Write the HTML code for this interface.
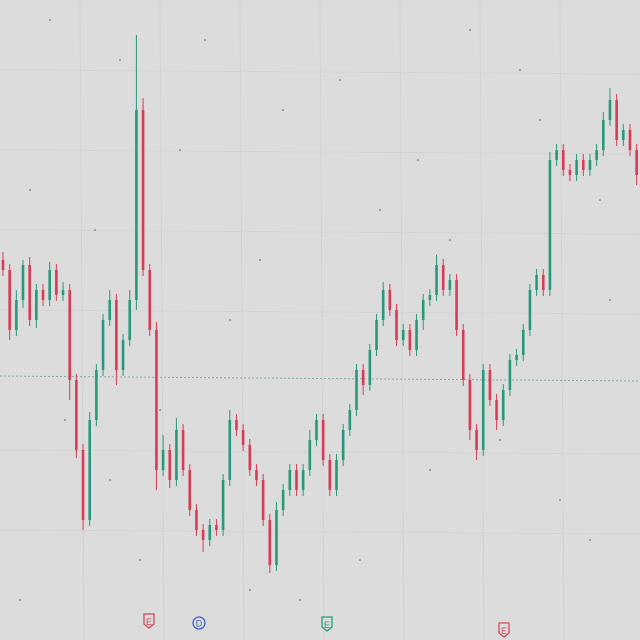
<!DOCTYPE html>
<html><head><meta charset="utf-8"><style>
html,body{margin:0;padding:0;background:#dddddd;}
svg{display:block;}
</style></head><body>
<svg id="chart" width="640" height="640" viewBox="0 0 640 640">
<rect x="0" y="0" width="640" height="640" fill="#dcdcdc"/>
<g id="grid"></g>
<g id="dots"></g>
<line x1="0" y1="376" x2="640" y2="381" stroke="#7fae9e" stroke-width="1" stroke-dasharray="2,2"/>
<g id="candles"></g>
<g>
 <g><path d="M144,614 h10 v10 l-5,4 l-5,-4z" fill="none" stroke="#d24a5a" stroke-width="1.3"/><text x="149" y="625" font-size="9" text-anchor="middle" fill="#d24a5a" font-family="Liberation Sans, sans-serif">E</text></g>
 <g><circle cx="199" cy="623" r="6" fill="none" stroke="#3a66c8" stroke-width="1.3"/><text x="199" y="626.5" font-size="9" text-anchor="middle" fill="#3a66c8" font-family="Liberation Sans, sans-serif">D</text></g>
 <g><path d="M322,617 h10 v10 l-5,4 l-5,-4z" fill="none" stroke="#2a9d7a" stroke-width="1.3"/><text x="327" y="628" font-size="9" text-anchor="middle" fill="#2a9d7a" font-family="Liberation Sans, sans-serif">E</text></g>
 <g><path d="M499,623 h10 v10 l-5,4 l-5,-4z" fill="none" stroke="#d24a5a" stroke-width="1.3"/><text x="504" y="634" font-size="9" text-anchor="middle" fill="#d24a5a" font-family="Liberation Sans, sans-serif">E</text></g>
</g>
</svg>
<script>
const closes=[370,310,340,375,320,350,340,370,345,350,260,190,120,220,270,320,340,270,300,340,530,370,310,170,190,160,210,170,130,110,100,115,110,160,220,210,195,170,160,120,75,130,150,170,150,170,200,220,180,150,180,210,230,270,255,290,320,350,330,300,310,290,320,340,345,375,350,360,310,260,210,190,270,240,220,250,280,285,310,350,365,350,480,490,470,465,480,470,480,490,520,540,500,510,490,465];
const firstOpen=380;
const wickUp=[8,6,10,5,8,6,6,8,6,8,6,6,6,8,6,6,10,6,6,10,75,12,6,8,15,6,12,6,6,6,6,6,6,6,10,6,6,6,6,6,6,8,6,6,6,6,10,6,6,6,6,6,6,6,6,6,6,8,6,6,6,6,6,6,6,10,6,6,6,6,6,6,6,6,6,6,6,6,6,6,6,6,8,6,6,6,6,6,6,6,8,12,6,6,6,6];
const wickDown=[6,10,6,8,6,8,6,6,6,6,20,8,10,6,6,6,6,15,6,6,10,6,6,20,6,8,6,6,6,6,12,6,6,6,6,6,6,6,6,6,8,6,6,6,6,6,6,6,6,6,6,6,6,6,10,6,6,6,6,6,6,6,6,10,6,6,6,6,6,6,10,10,6,6,10,6,6,6,6,6,6,6,6,6,6,6,6,6,6,6,6,6,6,6,6,10];
const gridX=[80,160,240,320,400,480,560];
const gridY=[70,150,230,310,450,530];
const dotX=[50,120,205,283,340,418,470,540,600,30,95,180,260,380,450,520,610,65,140,230,300,430,560,20,110,250,360,500,590,160];
const dotY=[20,60,40,110,80,160,30,120,200,190,230,150,260,210,240,70,300,420,560,320,600,470,500,600,480,590,560,440,540,410];
const NS='http://www.w3.org/2000/svg';
const yScale=p=>640-p;
const xScale=i=>3+i*6.67;
const g=document.getElementById('grid');
gridX.forEach(x=>{const l=document.createElementNS(NS,'line');


l.setAttribute('x1',x);l.setAttribute('x2',x+4);l.setAttribute('y1',0);l.setAttribute('y2',640);l.setAttribute('stroke','#d2d2d2');g.appendChild(l);});
gridY.forEach(y=>{const l=document.createElementNS(NS,'line');


l.setAttribute('x1',0);l.setAttribute('x2',640);l.setAttribute('y1',y);l.setAttribute('y2',y+4);l.setAttribute('stroke','#d2d2d2');g.appendChild(l);});
const dg=document.getElementById('dots');
dotX.forEach((x,i)=>{const d=document.createElementNS(NS,'circle');


d.setAttribute('cx',x);d.setAttribute('cy',dotY[i]);d.setAttribute('r',0.8);d.setAttribute('fill','#555');dg.appendChild(d);});
const cg=document.getElementById('candles');
closes.forEach((c,i)=>{
 const o=i===0?firstOpen:closes[i-1];
 const up=c>=o;const col=up?'#27997a':'#d63c55';
 const hi=Math.max(o,c)+wickUp[i], lo=Math.min(o,c)-wickDown[i];
 const x=xScale(i);
 const w=document.createElementNS(NS,'line');
 
 
 w.setAttribute('x1',x);w.setAttribute('x2',x);w.setAttribute('y1',yScale(hi));w.setAttribute('y2',yScale(lo));w.setAttribute('stroke',col);w.setAttribute('stroke-width','1');cg.appendChild(w);
 const r=document.createElementNS(NS,'rect');
 
 
 const top=yScale(Math.max(o,c));r.setAttribute('x',x-1.3);r.setAttribute('width',2.6);r.setAttribute('y',top);r.setAttribute('height',Math.max(1,Math.abs(o-c)));r.setAttribute('fill',col);cg.appendChild(r);
});
</script>
</body></html>
